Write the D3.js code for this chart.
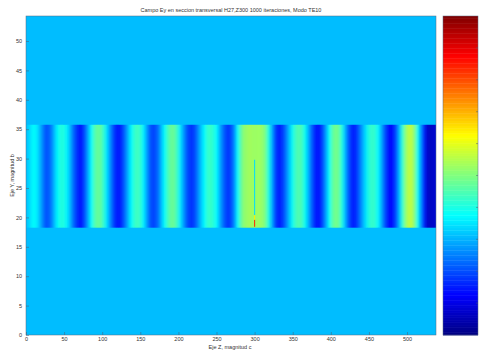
<!DOCTYPE html>
<html>
<head>
<meta charset="utf-8">
<script src="https://cdn.jsdelivr.net/npm/d3@7/dist/d3.min.js"></script>
<style>
  body { margin: 0; background: #fff; }
  svg { display: block; }
  text { font-family: "Liberation Sans", Arial, sans-serif; fill: #333; }
</style>
</head>
<body>
<svg id="chart" width="480" height="351"></svg>
<script>
// Ey field, normalised to colour position (0 = bottom of colour bar, 1 = top)
const fieldOutside = 0.31;
const bandY = [18.25, 35.75];
// mesh centres along Z (cell width 4)
const gridZ = d3.range(2, 540, 4);
const eyBand = [
  .32, .35, .38, .36, .31, .25, .20, .21, .25, .32, .38, .41, .40, .36, .30, .23, .18, .15,
  .16, .22, .30, .38, .45, .48, .47, .42, .35, .27, .20, .15, .14, .17, .23, .30, .37, .42,
  .44, .42, .36, .29, .22, .19, .20, .24, .31, .38, .44, .48, .48, .44, .36, .29, .22, .18,
  .17, .20, .26, .32, .37, .42, .43, .41, .37, .30, .24, .19, .17, .20, .27, .38, .47, .52,
  .53, .54, .53, .53, .53, .52, .49, .41, .31, .21, .16, .16, .19, .25, .32, .39, .44, .46,
  .44, .39, .31, .23, .17, .14, .15, .21, .29, .38, .46, .49, .48, .41, .32, .23, .17, .15,
  .17, .23, .29, .35, .41, .43, .42, .37, .30, .22, .16, .13, .15, .21, .31, .42, .51, .56,
  .56, .50, .39, .27, .16, .08, .06, .07, .08
];
// thin source line at Z = 300
const sourceZ = 300;
const sourceCells = [
  {y0: 18.4, y1: 19.6, v: 0.84},
  {y0: 19.6, y1: 20.4, v: 0.64},
  {y0: 20.4, y1: 29.8, v: 0.34}
];
const xTicks = [0, 50, 100, 150, 200, 250, 300, 350, 400, 450, 500];
const yTicks = [0, 5, 10, 15, 20, 25, 30, 35, 40, 45, 50];
const titleText = "Campo Ey en seccion transversal H27,Z300 1000 iteraciones, Modo TE10";
const xLabel = "Eje Z, magnitud c";
const yLabel = "Eje Y, magnitud b";

const svg = d3.select("#chart");
const plot = {left: 26, top: 16, right: 436, bottom: 335};

const x = d3.scaleLinear().domain([0, 538]).range([plot.left, plot.right]);
const y = d3.scaleLinear().domain([0, 54.25]).range([plot.bottom, plot.top]);

// MATLAB jet colormap
const jet = d3.scaleLinear()
  .domain([0, 0.125, 0.375, 0.625, 0.875, 1])
  .range(["#000080", "#0000ff", "#00ffff", "#ffff00", "#ff0000", "#800000"])
  .interpolate(d3.interpolateRgb)
  .clamp(true);

const defs = svg.append("defs");
defs.append("clipPath").attr("id", "clip")
  .append("rect")
  .attr("x", plot.left).attr("y", plot.top)
  .attr("width", plot.right - plot.left).attr("height", plot.bottom - plot.top);
defs.append("filter").attr("id", "soft")
  .attr("x", "-2%").attr("y", "-5%").attr("width", "104%").attr("height", "110%")
  .append("feGaussianBlur").attr("stdDeviation", "1.4 0.4");

const g = svg.append("g").attr("clip-path", "url(#clip)");

g.append("rect")
  .attr("x", plot.left).attr("y", plot.top)
  .attr("width", plot.right - plot.left).attr("height", plot.bottom - plot.top)
  .attr("fill", jet(fieldOutside));

g.append("g").attr("filter", "url(#soft)")
  .selectAll("rect")
  .data(eyBand)
  .join("rect")
  .attr("x", (d, i) => x(gridZ[i] - 2))
  .attr("width", (d, i) => x(gridZ[i] + 2) - x(gridZ[i] - 2) + 0.3)
  .attr("y", y(bandY[1]))
  .attr("height", y(bandY[0]) - y(bandY[1]))
  .attr("fill", d => jet(d));

g.selectAll("rect.src")
  .data(sourceCells)
  .join("rect")
  .attr("class", "src")
  .attr("x", x(sourceZ) - 0.5)
  .attr("width", 1)
  .attr("y", d => y(d.y1))
  .attr("height", d => y(d.y0) - y(d.y1))
  .attr("fill", d => jet(d.v));

// axes box and ticks (inside, MATLAB style)
svg.append("rect")
  .attr("x", plot.left).attr("y", plot.top)
  .attr("width", plot.right - plot.left).attr("height", plot.bottom - plot.top)
  .attr("fill", "none").attr("stroke", "#5a6a80").attr("stroke-width", 0.5);

const xAxis = svg.append("g").attr("transform", `translate(0,${plot.bottom})`)
  .call(d3.axisBottom(x).tickValues(xTicks).tickSize(-3).tickPadding(2));
const yAxis = svg.append("g").attr("transform", `translate(${plot.left},0)`)
  .call(d3.axisLeft(y).tickValues(yTicks).tickSize(-3).tickPadding(4));
[xAxis, yAxis].forEach(a => {
  a.select(".domain").remove();
  a.selectAll(".tick line").attr("stroke", "#4a5a70").attr("stroke-width", 0.5);
  a.selectAll(".tick text").attr("font-size", 5.5).attr("fill", "#444");
});

svg.append("text")
  .attr("x", 231).attr("y", 12)
  .attr("text-anchor", "middle").attr("font-size", 5.5)
  .text(titleText);

svg.append("text")
  .attr("x", 230).attr("y", 349)
  .attr("text-anchor", "middle").attr("font-size", 5.5)
  .text(xLabel);

svg.append("text")
  .attr("transform", `translate(14,${(plot.top + plot.bottom) / 2}) rotate(-90)`)
  .attr("text-anchor", "middle").attr("font-size", 5.5)
  .text(yLabel);

// colour bar
const cb = {left: 443, right: 478, top: 16, bottom: 335};
const cbScale = d3.scaleLinear().domain([0, 1]).range([cb.bottom, cb.top]);
const cbSteps = d3.range(0, 1, 1 / 128);
svg.append("g").selectAll("rect")
  .data(cbSteps)
  .join("rect")
  .attr("x", cb.left)
  .attr("width", cb.right - cb.left)
  .attr("y", d => cbScale(d + 1 / 128))
  .attr("height", d => cbScale(d) - cbScale(d + 1 / 128) + 0.4)
  .attr("fill", d => jet(d + 1 / 256));
svg.append("rect")
  .attr("x", cb.left).attr("y", cb.top)
  .attr("width", cb.right - cb.left).attr("height", cb.bottom - cb.top)
  .attr("fill", "none").attr("stroke", "#5a6a80").attr("stroke-width", 0.5);
const cbTicks = [0.1, 0.2, 0.3, 0.4, 0.5, 0.6, 0.7, 0.8, 0.9];
svg.append("g").selectAll("line")
  .data(cbTicks)
  .join("line")
  .attr("x1", cb.right - 2).attr("x2", cb.right)
  .attr("y1", d => cbScale(d)).attr("y2", d => cbScale(d))
  .attr("stroke", "#4a5a70").attr("stroke-width", 0.5);
</script>
</body>
</html>
